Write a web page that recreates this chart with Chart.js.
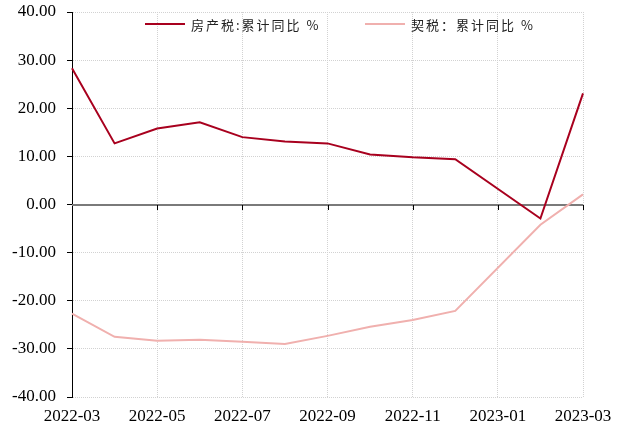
<!DOCTYPE html>
<html>
<head>
<meta charset="utf-8">
<script src="https://cdn.jsdelivr.net/npm/chart.js@4"></script>
<style>
  html, body { margin: 0; padding: 0; background: #fff; }
  #wrap { width: 622px; height: 428px; }
</style>
</head>
<body>
<div id="wrap"><canvas id="chart" width="622" height="428"></canvas></div>
<script>
// months along the x axis (2023-01 has no reading, Jan-Feb reported together)
const months = ['2022-03', '2022-04', '2022-05', '2022-06', '2022-07', '2022-08', '2022-09',
    '2022-10', '2022-11', '2022-12', '2023-01', '2023-02', '2023-03'];

// 房产税 cumulative YoY %
const propertyTax = [28.3, 12.7, 15.8, 17.1, 14.0, 13.1, 12.7, 10.4, 9.8, 9.4, null, -2.9, 23.1];

// 契税 cumulative YoY %
const deedTax = [-22.7, -27.5, -28.3, -28.1, -28.5, -29.0, -27.3, -25.4, -24.0, -22.1, null, -4.2, 2.1];

const seriesNames = ['房产税:累计同比 %', '契税：累计同比 %'];
const seriesColors = ['#A8001E', '#F0B0AE'];

const yTicks = [-40, -30, -20, -10, 0, 10, 20, 30, 40];

const serif = "'Liberation Serif', 'Times New Roman', serif";

// legend drawn inside the plot, on one row near the top
const insideLegend = {
    id: 'insideLegend',
    afterDraw(chart) {
        const ctx = chart.ctx;
        const slots = [145, 365];
        ctx.save();
        chart.data.datasets.forEach((ds, i) => {
            const x = slots[i];
            const y = 24;
            ctx.strokeStyle = ds.borderColor;
            ctx.lineWidth = 2;
            ctx.beginPath();
            ctx.moveTo(x, y);
            ctx.lineTo(x + 40, y);
            ctx.stroke();
            ctx.fillStyle = '#222';
            ctx.font = "13px 'Noto Sans CJK SC'";
            ctx.letterSpacing = '2px';
            ctx.textBaseline = 'middle';
            ctx.fillText(ds.label, x + 46, y + 1);
        });
        ctx.restore();
    }
};

// solid zero line with small tick marks hanging from it
const zeroLine = {
    id: 'zeroLine',
    beforeDatasetsDraw(chart) {
        const ctx = chart.ctx;
        const xs = chart.scales.x;
        const area = chart.chartArea;
        const y0 = Math.round(chart.scales.y.getPixelForValue(0));
        ctx.save();
        ctx.strokeStyle = '#7a7a7a';
        ctx.lineWidth = 2;
        ctx.beginPath();
        ctx.moveTo(area.left, y0);
        ctx.lineTo(area.right, y0);
        ctx.stroke();
        ctx.strokeStyle = '#000';
        ctx.lineWidth = 1;
        months.forEach((m, i) => {
            if (i % 2 !== 0 || i === 0) return;
            const x = Math.round(xs.getPixelForValue(i)) + 0.5;
            ctx.beginPath();
            ctx.moveTo(x, y0);
            ctx.lineTo(x, y0 + 5);
            ctx.stroke();
        });
        ctx.restore();
    }
};

new Chart(document.getElementById('chart'), {
    type: 'line',
    data: {
        labels: months,
        datasets: [
            {
                label: seriesNames[0],
                data: propertyTax,
                borderColor: seriesColors[0],
                backgroundColor: seriesColors[0],
                borderWidth: 2,
                pointRadius: 0,
                tension: 0,
                spanGaps: true
            },
            {
                label: seriesNames[1],
                data: deedTax,
                borderColor: seriesColors[1],
                backgroundColor: seriesColors[1],
                borderWidth: 2,
                pointRadius: 0,
                tension: 0,
                spanGaps: true
            }
        ]
    },
    options: {
        responsive: false,
        animation: false,
        layout: { padding: { top: 12, right: 39, left: 0, bottom: 0 } },
        plugins: {
            legend: { display: false },
            tooltip: { enabled: false }
        },
        scales: {
            x: {
                offset: false,
                border: { display: false, dash: [1, 1] },
                grid: {
                    drawTicks: false,
                    color: ctx => (ctx.index % 2 === 0 && ctx.index > 0) ? '#d2d2d2' : 'rgba(0,0,0,0)',
                    lineWidth: 1
                },
                ticks: {
                    autoSkip: false,
                    maxRotation: 0,
                    padding: 9,
                    color: '#000',
                    font: { family: serif, size: 17 },
                    callback: function(v, i) { return i % 2 === 0 ? months[i] : ''; }
                },
                afterFit(scale) {
                    scale.height = 31;
                    scale.paddingLeft = 0;
                    scale.paddingRight = 0;
                }
            },
            y: {
                min: -40,
                max: 40,
                afterBuildTicks(scale) { scale.ticks = yTicks.map(v => ({ value: v })); },
                border: { display: true, color: '#000', width: 1, dash: [1, 1] },
                grid: {
                    color: ctx => ctx.tick && ctx.tick.value === 0 ? 'rgba(0,0,0,0)' : '#d2d2d2',
                    lineWidth: 1,
                    tickColor: '#000',
                    tickLength: 5,
                    tickBorderDash: []
                },
                ticks: {
                    padding: 11,
                    color: '#000',
                    font: { family: serif, size: 17 },
                    callback: v => Number(v).toFixed(2)
                },
                afterFit(scale) {
                    scale.width = 72;
                    scale.paddingTop = 0;
                    scale.paddingBottom = 0;
                }
            }
        }
    },
    plugins: [zeroLine, insideLegend]
});
</script>
</body>
</html>
